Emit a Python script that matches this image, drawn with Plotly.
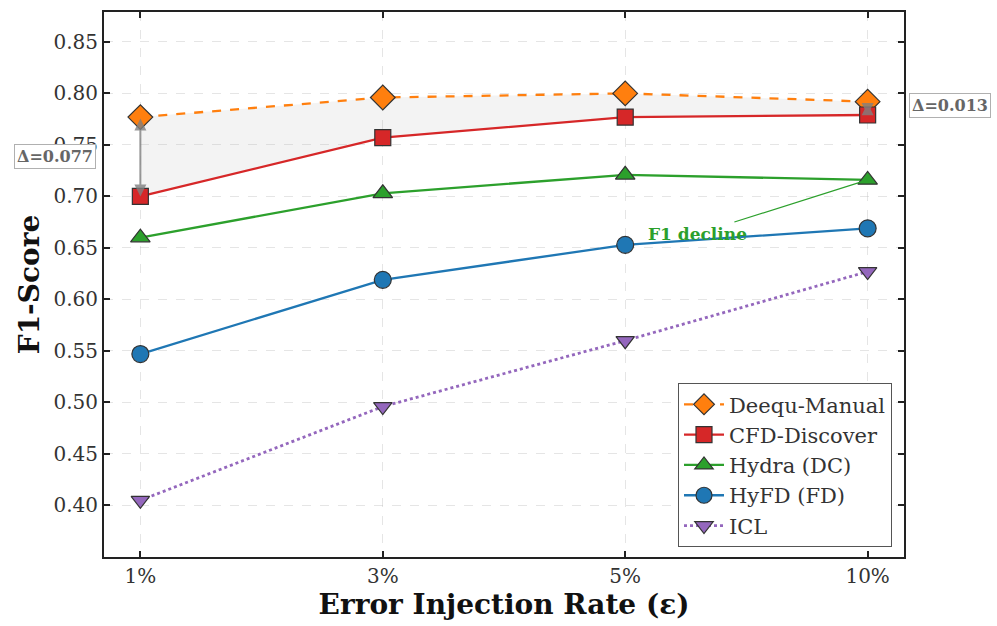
import plotly.graph_objects as go

rates = ["1%", "3%", "5%", "10%"]
deequ = [0.777, 0.796, 0.800, 0.792]
cfd = [0.700, 0.757, 0.777, 0.779]
hydra = [0.660, 0.703, 0.721, 0.716]
hyfd = [0.547, 0.619, 0.653, 0.669]
icl = [0.405, 0.496, 0.560, 0.627]
yticks = [0.40, 0.45, 0.50, 0.55, 0.60, 0.65, 0.70, 0.75, 0.80, 0.85]

series = [
    ("Deequ-Manual", deequ, "#ff7f0e", "dash", "diamond", 19),
    ("CFD-Discover", cfd, "#d62728", "solid", "square", 16),
    ("Hydra (DC)", hydra, "#2ca02c", "solid", "triangle-up", 17),
    ("HyFD (FD)", hyfd, "#1f77b4", "solid", "circle", 17),
    ("ICL", icl, "#9467bd", "dot", "triangle-down", 16),
]

SERIF = "DejaVu Serif"
fig = go.Figure()

# shaded gap between Deequ-Manual and CFD-Discover
fig.add_trace(go.Scatter(
    x=rates + rates[::-1], y=deequ + cfd[::-1], fill="toself",
    fillcolor="rgba(190,190,190,0.18)", line=dict(width=0),
    mode="lines", showlegend=False, hoverinfo="skip"))

for name, vals, color, dash, sym, size in series:
    fig.add_trace(go.Scatter(
        x=rates, y=vals, name=name, mode="lines+markers",
        line=dict(color=color, width=2.3 if dash != "dot" else 2.8, dash=dash),
        marker=dict(symbol=sym, size=size, color=color,
                    line=dict(color="#333333", width=1.2))))

# delta arrows
for i in (0, 3):
    fig.add_annotation(x=rates[i], y=cfd[i], ax=rates[i], ay=deequ[i],
                       xref="x", yref="y", axref="x", ayref="y",
                       showarrow=True, arrowhead=2, startarrowhead=2,
                       arrowside="end+start", arrowsize=1.2, arrowwidth=2,
                       arrowcolor="rgba(128,128,128,0.8)", text="")

fig.add_annotation(x=-0.0615, y=0.739, xref="paper", yref="y", xanchor="center",
                   text="<b>Δ=%.3f</b>" % (deequ[0] - cfd[0]), showarrow=False,
                   font=dict(family=SERIF, size=16, color="#666666"),
                   bgcolor="white", bordercolor="#b0b0b0", borderwidth=1, borderpad=2)
fig.add_annotation(x=1.0575, y=0.788, xref="paper", yref="y", xanchor="center",
                   text="<b>Δ=%.3f</b>" % (deequ[3] - cfd[3]), showarrow=False,
                   font=dict(family=SERIF, size=16, color="#666666"),
                   bgcolor="white", bordercolor="#b0b0b0", borderwidth=1, borderpad=2)

fig.add_annotation(x=rates[3], y=hydra[3], ax=2.30, ay=0.664,
                   xref="x", yref="y", axref="x", ayref="y",
                   text="<b>F1 decline</b>", showarrow=True, arrowhead=0,
                   arrowwidth=1.2, arrowcolor="#2ca02c",
                   font=dict(family=SERIF, size=17, color="#2ca02c"))

axis_common = dict(showline=True, linecolor="#222222", linewidth=2, mirror="allticks",
                   ticks="inside", ticklen=6, tickwidth=1.5, tickcolor="#222222",
                   showgrid=True, gridcolor="rgba(190,190,190,0.4)", griddash="dash",
                   gridwidth=1, zeroline=False,
                   tickfont=dict(family=SERIF, size=20, color="#333333"))

fig.update_xaxes(**axis_common, type="category", range=[-0.15, 3.15],
                 title=dict(text="<b>Error Injection Rate (ε)</b>",
                            font=dict(family=SERIF, size=28, color="#111111"), standoff=4))
fig.update_yaxes(**axis_common, range=[0.35, 0.879], tickvals=yticks, tickformat=".2f",
                 title=dict(text="<b>F1-Score</b>",
                            font=dict(family=SERIF, size=28, color="#111111"), standoff=6))

fig.update_layout(
    width=997, height=626, plot_bgcolor="white", paper_bgcolor="white",
    margin=dict(l=104, r=93, t=10, b=69),
    legend=dict(x=0.985, y=0.018, xanchor="right", yanchor="bottom",
                bgcolor="white", bordercolor="#555555", borderwidth=1,
                font=dict(family=SERIF, size=21, color="#333333"),
                itemwidth=40),
)

fig.write_html("out.html")
